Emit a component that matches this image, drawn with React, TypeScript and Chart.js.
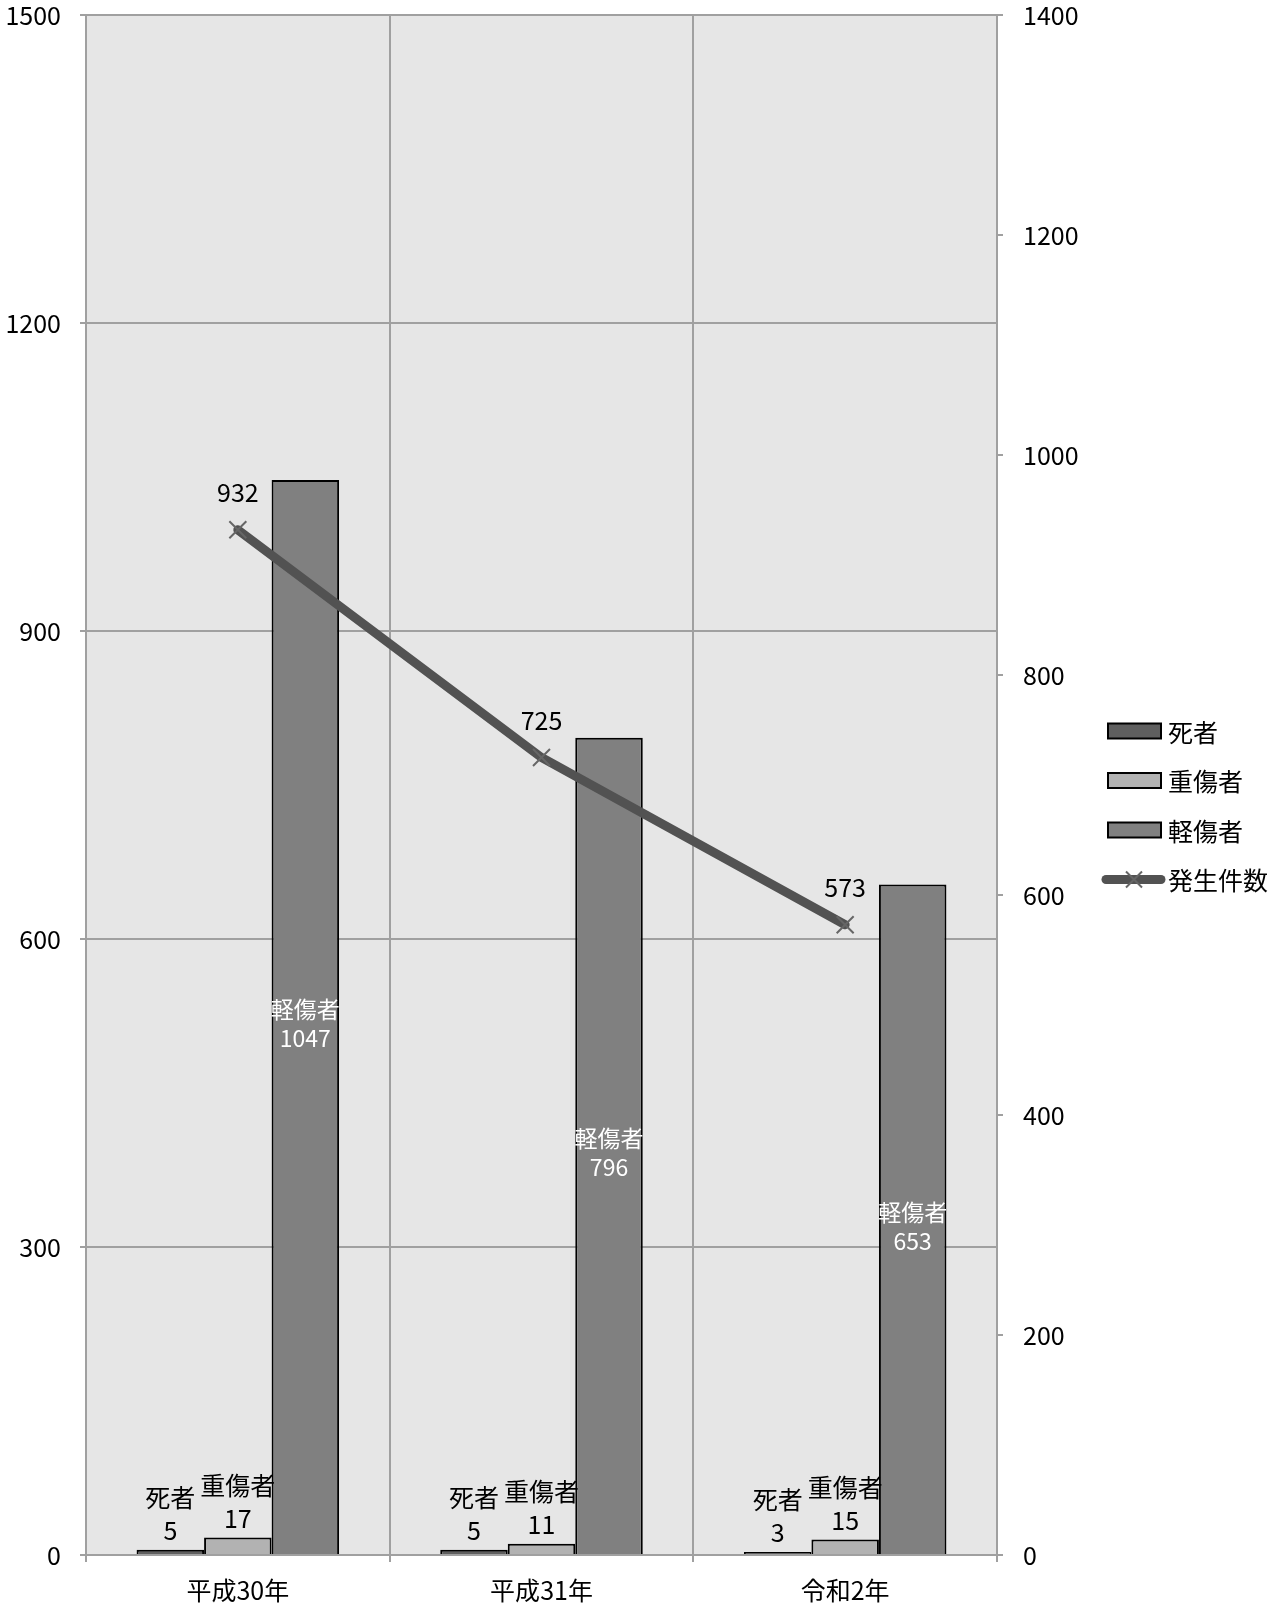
import React, { useEffect, useRef } from 'react';
import { Chart, registerables } from 'chart.js';

Chart.register(...registerables);

const categories = ['平成30年', '平成31年', '令和2年'];
const deaths = [5, 5, 3];
const serious = [17, 11, 15];
const minor = [1047, 796, 653];
const incidents = [932, 725, 573];
const seriesNames = ['死者', '重傷者', '軽傷者', '発生件数'];
const leftTicks = [0, 300, 600, 900, 1200, 1500];
const rightTicks = [0, 200, 400, 600, 800, 1000, 1200, 1400];

const FONT = "'Noto Sans CJK JP', 'Noto Sans', sans-serif";
const GRID = '#a0a0a0';

const bgPlugin = {
  id: 'plotBg',
  beforeDraw(chart: any) {
    const { ctx, chartArea } = chart;
    ctx.save();
    ctx.fillStyle = '#e6e6e6';
    ctx.fillRect(chartArea.left, chartArea.top, chartArea.right - chartArea.left, chartArea.bottom - chartArea.top);
    ctx.restore();
  },
};

const labelPlugin = {
  id: 'valueLabels',
  afterDatasetsDraw(chart: any) {
    const ctx = chart.ctx;
    ctx.save();
    ctx.textAlign = 'center';
    ctx.textBaseline = 'middle';
    chart.data.datasets.forEach((ds: any, i: number) => {
      const meta = chart.getDatasetMeta(i);
      meta.data.forEach((el: any, j: number) => {
        const v = ds.data[j];
        if (ds.type === 'line') {
          ctx.fillStyle = '#000';
          ctx.font = `25px ${FONT}`;
          ctx.fillText(String(v), el.x, el.y - 37);
        } else if (i === 2) {
          const mid = (el.y + el.base) / 2 + 7;
          ctx.fillStyle = '#fff';
          ctx.font = `23px ${FONT}`;
          ctx.fillText(ds.label, el.x, mid - 14.5);
          ctx.fillText(String(v), el.x, mid + 14.5);
        } else {
          ctx.fillStyle = '#000';
          ctx.font = `25px ${FONT}`;
          ctx.fillText(String(v), el.x, el.y - 19);
          ctx.fillText(ds.label, el.x, el.y - 52);
        }
      });
    });
    ctx.restore();
  },
};

const legendPlugin = {
  id: 'sideLegend',
  afterDraw(chart: any) {
    const { ctx, chartArea } = chart;
    const x0 = chartArea.right + 111;
    const y0 = 731;
    const gap = 49.5;
    ctx.save();
    ctx.font = `25px ${FONT}`;
    ctx.textBaseline = 'middle';
    ctx.textAlign = 'left';
    chart.data.datasets.forEach((ds: any, i: number) => {
      const y = y0 + gap * i;
      if (ds.type === 'line') {
        ctx.strokeStyle = ds.borderColor;
        ctx.lineWidth = 9;
        ctx.lineCap = 'round';
        ctx.beginPath();
        ctx.moveTo(x0 - 2, y);
        ctx.lineTo(x0 + 53, y);
        ctx.stroke();
        ctx.strokeStyle = ds.pointBorderColor;
        ctx.lineWidth = 2;
        ctx.lineCap = 'butt';
        const r = 8;
        const cx = x0 + 26;
        ctx.beginPath();
        ctx.moveTo(cx - r, y - r);
        ctx.lineTo(cx + r, y + r);
        ctx.moveTo(cx - r, y + r);
        ctx.lineTo(cx + r, y - r);
        ctx.stroke();
      } else {
        ctx.fillStyle = ds.backgroundColor;
        ctx.fillRect(x0, y - 7.5, 53, 15);
        ctx.strokeStyle = '#000';
        ctx.lineWidth = 2;
        ctx.strokeRect(x0, y - 7.5, 53, 15);
      }
      ctx.fillStyle = '#000';
      ctx.fillText(ds.label, x0 + 60, y + 1);
    });
    ctx.restore();
  },
};

export default function App() {
  const ref = useRef<HTMLCanvasElement>(null);

  useEffect(() => {
    if (!ref.current) return;
    const barCommon = {
      type: 'bar' as const,
      yAxisID: 'y',
      borderColor: '#000',
      borderWidth: 2,
      borderSkipped: 'bottom' as const,
      categoryPercentage: 0.667,
      barPercentage: 1.0,
      order: 1,
    };
    const plain = (v: any) => String(v);
    const chart = new Chart(ref.current, {
      type: 'bar',
      data: {
        labels: categories,
        datasets: [
          { ...barCommon, label: seriesNames[0], data: deaths, backgroundColor: '#5f5f5f' },
          { ...barCommon, label: seriesNames[1], data: serious, backgroundColor: '#b2b2b2' },
          { ...barCommon, label: seriesNames[2], data: minor, backgroundColor: '#808080' },
          {
            type: 'line',
            label: seriesNames[3],
            data: incidents,
            yAxisID: 'y1',
            borderColor: '#525252',
            borderWidth: 9,
            borderCapStyle: 'round',
            pointStyle: 'crossRot',
            pointRadius: 12,
            pointBorderColor: '#666666',
            pointBorderWidth: 2,
            pointBackgroundColor: '#666666',
            tension: 0,
            order: 0,
          } as any,
        ],
      },
      options: {
        animation: false,
        responsive: false,
        devicePixelRatio: 1,
        layout: { padding: { top: 15, left: 0, right: 168, bottom: 0 } },
        plugins: {
          legend: { display: false },
          tooltip: { enabled: false },
        },
        scales: {
          x: {
            type: 'category',
            offset: true,
            grid: { display: true, offset: true, color: GRID, lineWidth: 2, tickLength: 7 },
            border: { color: GRID, width: 2 },
            ticks: { color: '#000', font: { family: FONT, size: 25, lineHeight: 1.2 }, padding: 13 },
            afterFit: (s: any) => { s.height = 50; s.paddingLeft = 0; s.paddingRight = 0; },
          },
          y: {
            type: 'linear',
            position: 'left',
            min: leftTicks[0],
            max: leftTicks[leftTicks.length - 1],
            afterBuildTicks: (s: any) => { s.ticks = leftTicks.map((v) => ({ value: v })); },
            grid: { color: GRID, lineWidth: 2, tickLength: 6 },
            border: { color: GRID, width: 2 },
            ticks: { color: '#000', font: { family: FONT, size: 25, lineHeight: 1.2 }, padding: 19, callback: plain },
            afterFit: (s: any) => { s.width = 86; s.paddingTop = 0; s.paddingBottom = 0; },
          },
          y1: {
            type: 'linear',
            position: 'right',
            min: rightTicks[0],
            max: rightTicks[rightTicks.length - 1],
            afterBuildTicks: (s: any) => { s.ticks = rightTicks.map((v) => ({ value: v })); },
            grid: { drawOnChartArea: false, color: GRID, lineWidth: 2, tickLength: 6 },
            border: { color: GRID, width: 2 },
            ticks: { color: '#000', font: { family: FONT, size: 25, lineHeight: 1.2 }, padding: 20, callback: plain },
            afterFit: (s: any) => { s.width = 120; s.paddingTop = 0; s.paddingBottom = 0; },
          },
        },
      },
      plugins: [bgPlugin, labelPlugin, legendPlugin],
    });
    return () => chart.destroy();
  }, []);

  return (
    <div style={{ position: 'absolute', left: 0, top: 0, width: 1285, height: 1605 }}>
      <canvas ref={ref} width={1285} height={1605} style={{ display: 'block', width: 1285, height: 1605 }} />
    </div>
  );
}
